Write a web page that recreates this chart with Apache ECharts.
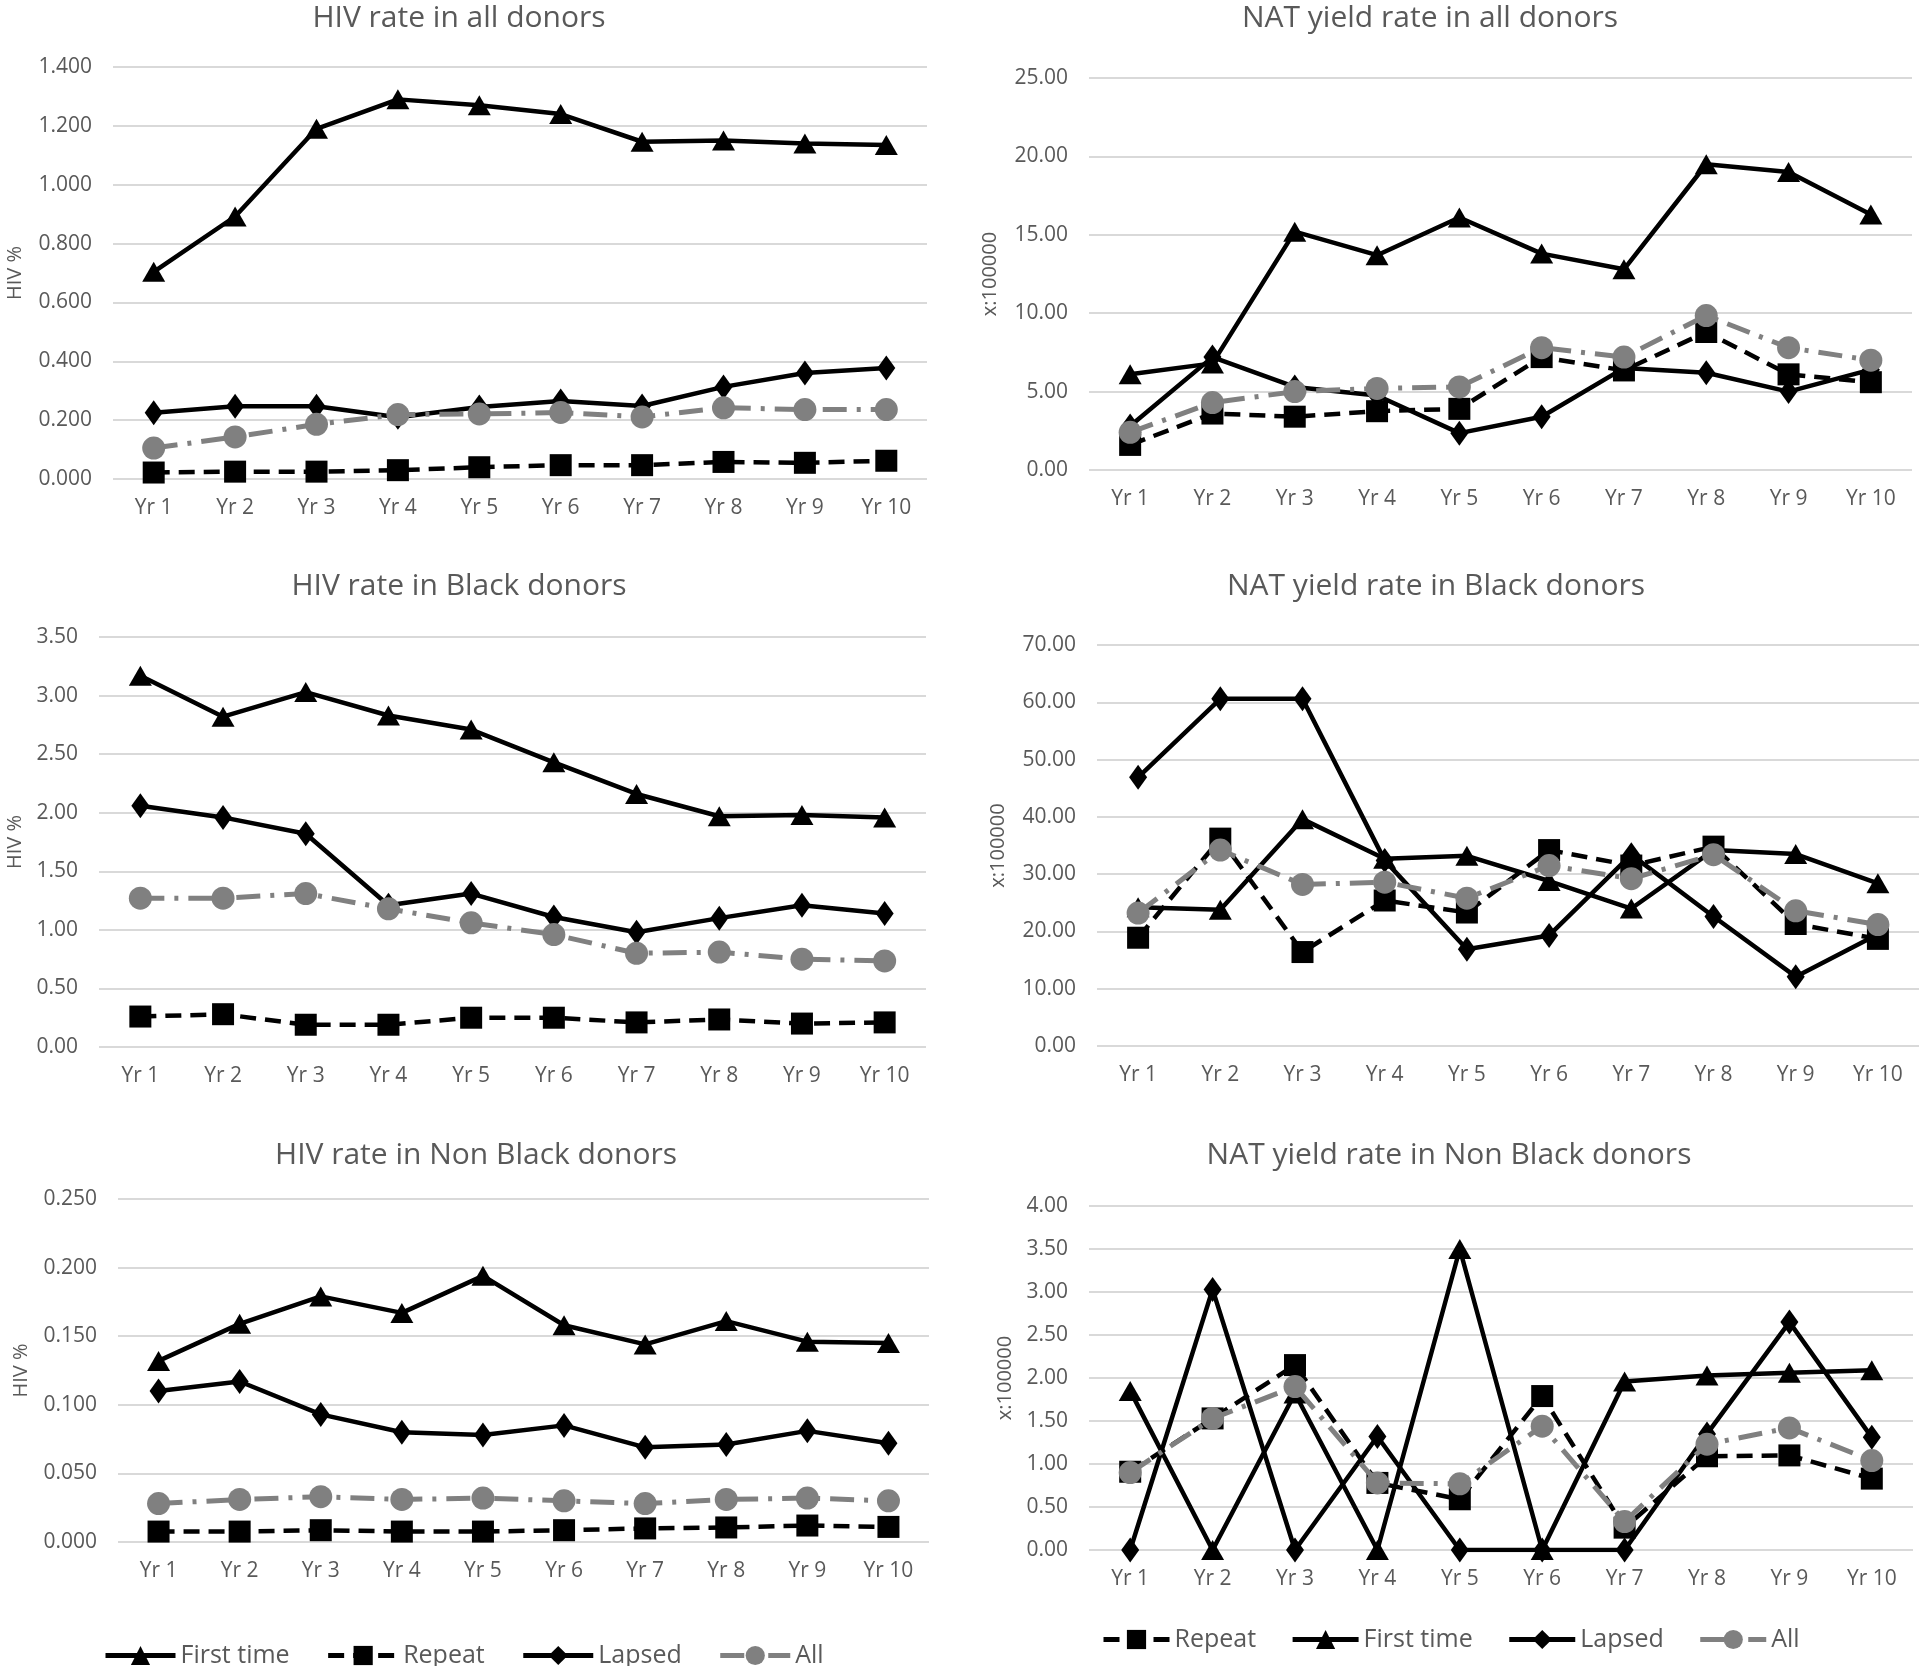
<!DOCTYPE html>
<html>
<head>
    <meta charset="utf-8">
    <title>HIV and NAT yield rates</title>
    <script type="text/javascript" src="https://cdn.jsdelivr.net/npm/echarts@6/dist/echarts.min.js"></script>
    <style>
        html, body { margin: 0; padding: 0; background: #fff; }
    </style>
</head>
<body>

<div id="main" style="width: 1920px; height: 1666px;"></div>

<script>
    // categories
    var years = ['Yr 1', 'Yr 2', 'Yr 3', 'Yr 4', 'Yr 5', 'Yr 6', 'Yr 7', 'Yr 8', 'Yr 9', 'Yr 10'];

    // HIV rate in all donors (%)
    var hivAllFirst = [0.704, 0.892, 1.190, 1.290, 1.270, 1.240, 1.146, 1.150, 1.140, 1.135];
    var hivAllRepeat = [0.022, 0.025, 0.025, 0.030, 0.040, 0.047, 0.047, 0.058, 0.055, 0.062];
    var hivAllLapsed = [0.225, 0.247, 0.247, 0.210, 0.245, 0.265, 0.248, 0.313, 0.360, 0.377];
    var hivAllAll = [0.105, 0.143, 0.186, 0.219, 0.221, 0.226, 0.211, 0.242, 0.236, 0.236];

    // NAT yield rate in all donors (x:100000)
    var natAllRepeat = [1.6, 3.6, 3.4, 3.75, 3.9, 7.2, 6.35, 8.8, 6.1, 5.6];
    var natAllFirst = [6.1, 6.8, 15.2, 13.7, 16.1, 13.8, 12.8, 19.5, 19.0, 16.3];
    var natAllLapsed = [2.8, 7.2, 5.3, 4.75, 2.35, 3.4, 6.5, 6.2, 5.0, 6.4];
    var natAllAll = [2.4, 4.3, 5.0, 5.2, 5.3, 7.8, 7.2, 9.85, 7.8, 7.0];

    // HIV rate in Black donors (%)
    var hivBlkFirst = [3.17, 2.82, 3.03, 2.83, 2.71, 2.43, 2.16, 1.97, 1.98, 1.96];
    var hivBlkRepeat = [0.26, 0.28, 0.19, 0.19, 0.25, 0.25, 0.21, 0.235, 0.20, 0.21];
    var hivBlkLapsed = [2.06, 1.96, 1.82, 1.21, 1.31, 1.11, 0.98, 1.10, 1.21, 1.14];
    var hivBlkAll = [1.27, 1.27, 1.31, 1.18, 1.06, 0.96, 0.80, 0.81, 0.75, 0.735];

    // NAT yield rate in Black donors (x:100000)
    var natBlkRepeat = [18.9, 36.2, 16.4, 25.4, 23.3, 34.2, 31.5, 34.8, 21.3, 18.7];
    var natBlkFirst = [24.2, 23.8, 39.6, 32.7, 33.2, 28.8, 24.0, 34.2, 33.5, 28.4];
    var natBlkLapsed = [46.9, 60.6, 60.6, 32.4, 16.9, 19.3, 33.4, 22.6, 12.1, 19.5];
    var natBlkAll = [23.2, 34.2, 28.2, 28.6, 25.8, 31.5, 29.2, 33.4, 23.6, 21.2];

    // HIV rate in Non Black donors (%)
    var hivNonFirst = [0.132, 0.159, 0.179, 0.167, 0.194, 0.158, 0.144, 0.161, 0.146, 0.145];
    var hivNonRepeat = [0.0076, 0.0076, 0.0086, 0.0076, 0.0076, 0.0086, 0.0099, 0.0106, 0.0120, 0.0110];
    var hivNonLapsed = [0.110, 0.117, 0.093, 0.080, 0.078, 0.085, 0.069, 0.071, 0.081, 0.072];
    var hivNonAll = [0.028, 0.031, 0.033, 0.031, 0.032, 0.030, 0.028, 0.031, 0.032, 0.030];

    // NAT yield rate in Non Black donors (x:100000)
    var natNonRepeat = [0.91, 1.53, 2.15, 0.78, 0.59, 1.79, 0.26, 1.09, 1.10, 0.83];
    var natNonFirst = [1.85, 0.00, 1.82, 0.00, 3.50, 0.00, 1.96, 2.03, 2.06, 2.09];
    var natNonLapsed = [0.00, 3.03, 0.00, 1.32, 0.00, 0.00, 0.00, 1.35, 2.65, 1.31];
    var natNonAll = [0.90, 1.53, 1.90, 0.78, 0.77, 1.44, 0.33, 1.23, 1.42, 1.04];

    // tick settings for each panel
    var yMax = [1.4, 25, 3.5, 70, 0.25, 4];
    var yStep = [0.2, 5, 0.5, 10, 0.05, 0.5];
    var yDigits = [3, 2, 2, 2, 3, 2];
    var yNames = ['HIV %', 'x:100000', 'HIV %', 'x:100000', 'HIV %', 'x:100000'];
    var titles = [
        'HIV rate in all donors', 'NAT yield rate in all donors',
        'HIV rate in Black donors', 'NAT yield rate in Black donors',
        'HIV rate in Non Black donors', 'NAT yield rate in Non Black donors'
    ];

    var panelData = [
        {'First time': hivAllFirst, 'Repeat': hivAllRepeat, 'Lapsed': hivAllLapsed, 'All': hivAllAll},
        {'Repeat': natAllRepeat, 'First time': natAllFirst, 'Lapsed': natAllLapsed, 'All': natAllAll},
        {'First time': hivBlkFirst, 'Repeat': hivBlkRepeat, 'Lapsed': hivBlkLapsed, 'All': hivBlkAll},
        {'Repeat': natBlkRepeat, 'First time': natBlkFirst, 'Lapsed': natBlkLapsed, 'All': natBlkAll},
        {'First time': hivNonFirst, 'Repeat': hivNonRepeat, 'Lapsed': hivNonLapsed, 'All': hivNonAll},
        {'Repeat': natNonRepeat, 'First time': natNonFirst, 'Lapsed': natNonLapsed, 'All': natNonAll}
    ];

    // layout of the six plot areas (pixels)
    var boxes = [
        {left: 113, top: 67, width: 814, height: 412, gap: 88, titleX: 459, titleY: 3},
        {left: 1089, top: 78, width: 823, height: 392, gap: 89, titleX: 1430, titleY: 3},
        {left: 99, top: 637, width: 827, height: 410, gap: 74, titleX: 459, titleY: 571},
        {left: 1097, top: 645, width: 822, height: 401, gap: 89, titleX: 1436, titleY: 571},
        {left: 118, top: 1199, width: 811, height: 343, gap: 87, titleX: 476, titleY: 1140},
        {left: 1089, top: 1206, width: 824, height: 344, gap: 74, titleX: 1449, titleY: 1140}
    ];

    var font = '"Open Sans", "Noto Sans", sans-serif';
    var grey = '#595959';

    var looks = {
        'First time': {symbol: 'triangle', size: [23, 20], color: '#000', type: 'solid', width: 4.5},
        'Repeat': {symbol: 'rect', size: 22, color: '#000', type: [16, 9], width: 4.5},
        'Lapsed': {symbol: 'diamond', size: [18, 25], color: '#000', type: 'solid', width: 4.5},
        'All': {symbol: 'circle', size: 23, color: '#808080', type: [24, 10, 4, 10], width: 5}
    };

    var chart = echarts.init(document.getElementById('main'));

    var title = [], grid = [], xAxis = [], yAxis = [], series = [];
    boxes.forEach(function (b, i) {
        title.push({
            text: titles[i], left: b.titleX, top: b.titleY, textAlign: 'center', padding: 0,
            textStyle: {fontFamily: font, fontSize: 30, fontWeight: 'normal', color: grey}
        });
        grid.push({left: b.left, top: b.top, width: b.width, height: b.height,
            containLabel: false, outerBoundsMode: 'none'});
        xAxis.push({
            type: 'category', gridIndex: i, data: years, boundaryGap: true,
            axisLine: {show: false}, axisTick: {show: false},
            axisLabel: {fontFamily: font, fontSize: 21, color: grey, margin: 19}
        });
        yAxis.push({
            type: 'value', gridIndex: i, min: 0, max: yMax[i], interval: yStep[i],
            name: yNames[i], nameLocation: 'middle', nameRotate: 90, nameGap: b.gap,
            nameTextStyle: {fontFamily: font, fontSize: 20, color: grey},
            axisLine: {show: false}, axisTick: {show: false},
            splitLine: {lineStyle: {color: '#d9d9d9', width: 2}},
            axisLabel: {
                fontFamily: font, fontSize: 21, color: grey, margin: 21,
                formatter: (function (d) { return function (v) { return v.toFixed(d); }; })(yDigits[i])
            }
        });
        Object.keys(panelData[i]).forEach(function (name) {
            var lk = looks[name];
            series.push({
                name: name, type: 'line', xAxisIndex: i, yAxisIndex: i,
                data: panelData[i][name],
                symbol: lk.symbol, symbolSize: lk.size,
                itemStyle: {color: lk.color},
                lineStyle: {color: lk.color, width: lk.width, type: lk.type},
                z: name === 'All' ? 4 : 3
            });
        });
    });

    var legendText = {fontFamily: font, fontSize: 25, color: grey};
    var option = {
        animation: false,
        backgroundColor: '#fff',
        title: title,
        grid: grid,
        xAxis: xAxis,
        yAxis: yAxis,
        legend: [
            {data: ['First time', 'Repeat', 'Lapsed', 'All'], left: 98, top: 1638,
                itemWidth: 70, itemHeight: 24, itemGap: 36, textStyle: legendText,
                lineStyle: {width: 5}},
            {data: ['Repeat', 'First time', 'Lapsed', 'All'], left: 1096, top: 1622,
                itemWidth: 66, itemHeight: 24, itemGap: 34, textStyle: legendText,
                lineStyle: {width: 5}}
        ],
        series: series
    };
    chart.setOption(option);
</script>

</body>
</html>
